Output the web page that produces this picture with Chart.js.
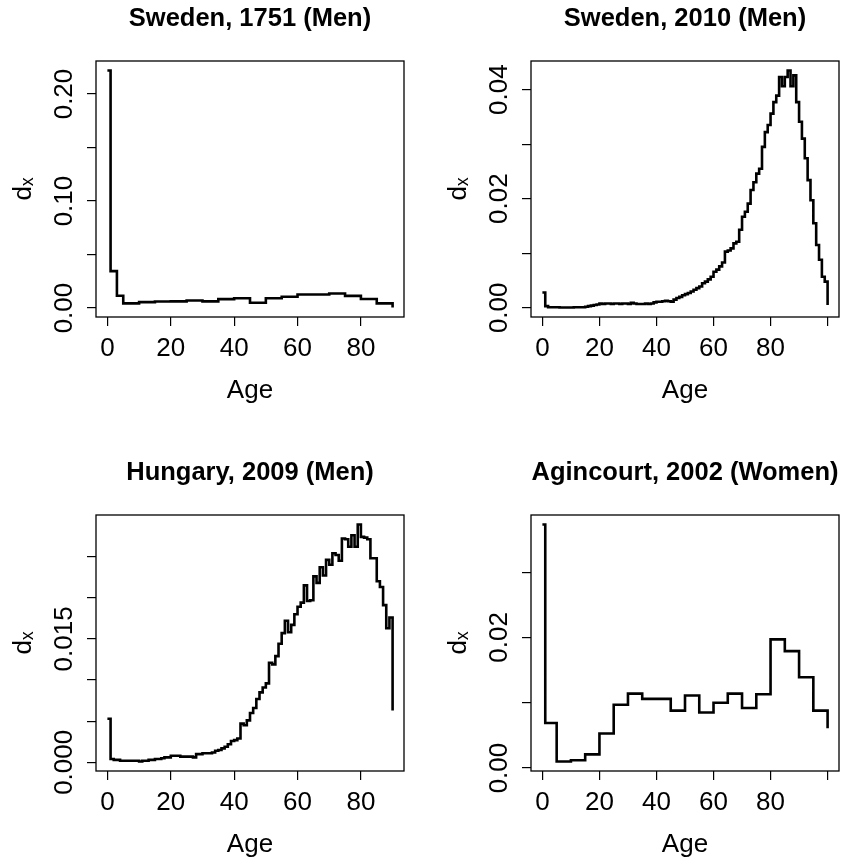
<!DOCTYPE html>
<html><head><meta charset="utf-8">
<script src="https://cdn.jsdelivr.net/npm/chart.js@4.4.0/dist/chart.umd.min.js"></script>
<style>
html,body{margin:0;padding:0;background:#fff;overflow:hidden;width:843px;height:863px;}
.p{position:absolute;width:421px;height:431px;}
</style></head><body>
<div class="p" style="left:0;top:0"><canvas id="c1" width="421" height="431"></canvas></div>
<div class="p" style="left:435px;top:0"><canvas id="c2" width="421" height="431"></canvas></div>
<div class="p" style="left:0;top:454px"><canvas id="c3" width="421" height="431"></canvas></div>
<div class="p" style="left:435px;top:454px"><canvas id="c4" width="421" height="431"></canvas></div>
<script>
// ---------- data ----------
const titles = ['Sweden, 1751 (Men)', 'Sweden, 2010 (Men)', 'Hungary, 2009 (Men)', 'Agincourt, 2002 (Women)'];
const xTitle = 'Age';
const yTitle = 'dₓ';

const agesSweden1751 = [0,1,3,5,10,15,20,25,30,35,40,45,50,55,60,65,70,75,80,85,90];
const dxSweden1751 = [0.222,0.0345,0.0115,0.0044,0.0055,0.0061,0.0062,0.0070,0.0062,0.0083,0.0092,0.0049,0.0092,0.0105,0.0126,0.0126,0.0136,0.0114,0.0084,0.0044,0.0005];

const agesSweden2010 = Array.from({length:101}, (_, i) => i);
const dxSweden2010 = [
 0.0028,0.0003,0.0001,0.0001,0.0001,0.0001,0.00005,0.00005,0.00005,0.00005,
 0.00005,0.0001,0.0001,0.0001,0.0001,0.0002,0.0003,0.0004,0.0005,0.0006,
 0.0008,0.0007,0.0008,0.0008,0.0007,0.0008,0.0008,0.0007,0.0008,0.0008,
 0.0007,0.0009,0.0008,0.0007,0.0007,0.0007,0.0008,0.0007,0.0008,0.0010,
 0.0011,0.0011,0.0012,0.0013,0.0012,0.0011,0.0015,0.0018,0.0020,0.0023,
 0.0025,0.0027,0.0030,0.0033,0.0036,0.0039,0.0045,0.0048,0.0052,0.0057,
 0.0066,0.0070,0.0076,0.0083,0.0103,0.0105,0.0109,0.0118,0.0121,0.0143,
 0.0167,0.0176,0.0191,0.0216,0.0230,0.0246,0.0255,0.0295,0.0322,0.0335,
 0.0356,0.0377,0.0389,0.0423,0.0406,0.0423,0.0435,0.0406,0.0426,0.0377,
 0.0341,0.0310,0.0274,0.0234,0.0197,0.0155,0.0115,0.0088,0.0057,0.0048,
 0.0005];

const agesHungary2009 = Array.from({length:91}, (_, i) => i);
const dxHungary2009 = [
 0.0053,0.0004,0.0003,0.0003,0.0002,0.0002,0.0002,0.0002,0.0002,0.0002,
 0.0001,0.0002,0.0002,0.0003,0.0003,0.0004,0.0004,0.0005,0.0006,0.0006,
 0.0008,0.0008,0.0008,0.0007,0.0007,0.0007,0.0007,0.0006,0.0010,0.0010,
 0.0011,0.0011,0.0011,0.0012,0.0014,0.0015,0.0017,0.0019,0.0022,0.0026,
 0.0027,0.0029,0.0047,0.0045,0.0051,0.0060,0.0066,0.0077,0.0085,0.0091,
 0.0096,0.0121,0.0119,0.0129,0.0144,0.0157,0.0172,0.0158,0.0167,0.0180,
 0.0189,0.0194,0.0215,0.0196,0.0197,0.0226,0.0218,0.0237,0.0227,0.0246,
 0.0240,0.0254,0.0252,0.0245,0.0272,0.0271,0.0262,0.0276,0.0262,0.0289,
 0.0274,0.0273,0.0271,0.0248,0.0248,0.0220,0.0213,0.0191,0.0163,0.0176,
 0.0063];

const agesAgincourt2002 = [0,1,5,10,15,20,25,30,35,40,45,50,55,60,65,70,75,80,85,90,95,100];
const dxAgincourt2002 = [0.0373,0.0069,0.0010,0.0012,0.0021,0.0053,0.0097,0.0114,0.0106,0.0106,0.0088,0.0111,0.0085,0.0100,0.0114,0.0092,0.0113,0.0197,0.0179,0.0139,0.0088,0.0061];

const xTicks90 = [0,20,40,60,80];
const xTickLabels90 = ['0','20','40','60','80'];
const xTicks100 = [0,20,40,60,80,100];
const xTickLabels100 = ['0','20','40','60','80',''];

const yTicks1 = [0,0.05,0.10,0.15,0.20];
const yTickLabels1 = ['0.00','','0.10','','0.20'];
const yTicks2 = [0,0.01,0.02,0.03,0.04];
const yTickLabels2 = ['0.00','','0.02','','0.04'];
const yTicks3 = [0,0.005,0.010,0.015,0.020,0.025];
const yTickLabels3 = ['0.000','','','0.015','',''];
const yTicks4 = [0,0.01,0.02,0.03];
const yTickLabels4 = ['0.00','','0.02',''];

// ---------- drawing ----------
const FAMILY = "'Liberation Sans', Arial, Helvetica, sans-serif";
const TICK_SIZE = 26, LAB_SIZE = 26, MAIN_SIZE = 25.5;
const CHART_LEFT = 96, CHART_BOTTOM = 317, CANVAS_H = 431;
const TICK_LEN = 9;

const mctx = document.createElement('canvas').getContext('2d');
mctx.font = TICK_SIZE + 'px ' + FAMILY;
function widest(labels){ return Math.max(...labels.map(l => mctx.measureText(l).width)); }

function rExtend(arr){
  const mn = Math.min(...arr), mx = Math.max(...arr), d = (mx - mn) * 0.04;
  return [mn - d, mx + d];
}

const boxPlugin = {
  id: 'box',
  afterDatasetsDraw(chart){
    const {ctx, chartArea: a} = chart;
    ctx.save();
    ctx.strokeStyle = '#000';
    ctx.lineWidth = 1.3;
    ctx.strokeRect(a.left, a.top, a.right - a.left, a.bottom - a.top);
    ctx.restore();
  }
};

function makeChart(id, title, ages, dx, xTicks, xLabels, yTicks, yLabels){
  const [xmin, xmax] = rExtend(ages);
  const [ymin, ymax] = rExtend(dx);
  const yPad = 22.3 - widest(yLabels) / 2;
  new Chart(document.getElementById(id), {
    type: 'line',
    data: { datasets: [{
      data: ages.map((a, i) => ({x: a, y: dx[i]})),
      stepped: 'before',
      borderColor: '#000',
      borderWidth: 2.6,
      pointRadius: 0,
      fill: false,
      tension: 0
    }]},
    options: {
      responsive: false,
      animation: false,
      events: [],
      layout: { padding: { left: 0, right: 17, top: 0, bottom: 0 } },
      plugins: {
        legend: { display: false },
        tooltip: { enabled: false },
        title: {
          display: true, text: title, fullSize: false, color: '#000',
          font: { family: FAMILY, size: MAIN_SIZE, weight: 'bold' },
          padding: { top: 4, bottom: 26.4 }
        }
      },
      scales: {
        x: {
          type: 'linear', min: xmin, max: xmax,
          afterBuildTicks: s => { s.ticks = xTicks.map(v => ({value: v})); },
          afterFit: s => { s.height = CANVAS_H - CHART_BOTTOM; },
          grid: { drawOnChartArea: false, drawTicks: true, tickLength: TICK_LEN, color: '#000', lineWidth: 1.2 },
          border: { display: false },
          ticks: {
            autoSkip: false, maxRotation: 0, minRotation: 0, padding: 7.6, color: '#000',
            font: { family: FAMILY, size: TICK_SIZE },
            callback: (v, i) => xLabels[i]
          },
          title: { display: true, text: xTitle, color: '#000', font: { family: FAMILY, size: LAB_SIZE }, padding: { top: 0, bottom: 25 } }
        },
        y: {
          type: 'linear', min: ymin, max: ymax,
          afterBuildTicks: s => { s.ticks = yTicks.map(v => ({value: v})); },
          afterFit: s => { s.width = CHART_LEFT; },
          grid: { drawOnChartArea: false, drawTicks: true, tickLength: TICK_LEN, color: '#000', lineWidth: 1.2 },
          border: { display: false },
          ticks: {
            autoSkip: false, minRotation: 90, maxRotation: 90, crossAlign: 'center', padding: yPad, color: '#000',
            font: { family: FAMILY, size: TICK_SIZE },
            callback: (v, i) => yLabels[i]
          },
          title: { display: true, text: yTitle, color: '#000', font: { family: FAMILY, size: LAB_SIZE }, padding: { top: 8, bottom: 0 } }
        }
      }
    },
    plugins: [boxPlugin]
  });
}

makeChart('c1', titles[0], agesSweden1751, dxSweden1751, xTicks90, xTickLabels90, yTicks1, yTickLabels1);
makeChart('c2', titles[1], agesSweden2010, dxSweden2010, xTicks100, xTickLabels100, yTicks2, yTickLabels2);
makeChart('c3', titles[2], agesHungary2009, dxHungary2009, xTicks90, xTickLabels90, yTicks3, yTickLabels3);
makeChart('c4', titles[3], agesAgincourt2002, dxAgincourt2002, xTicks100, xTickLabels100, yTicks4, yTickLabels4);
</script>
</body></html>
